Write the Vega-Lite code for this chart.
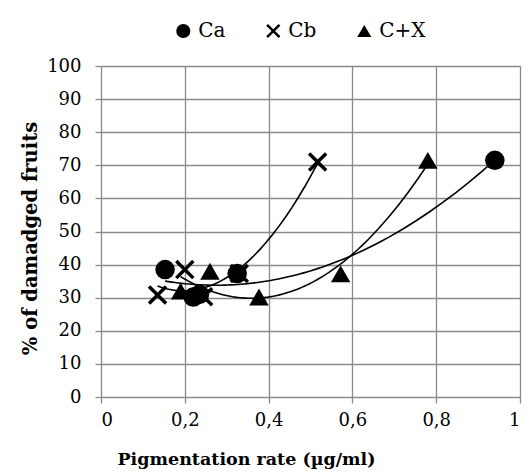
{
  "$schema": "https://vega.github.io/schema/vega-lite/v6.json",
  "width": 419,
  "height": 331,
  "autosize": {"type": "none"},
  "padding": {"left": 101, "top": 66, "right": 10, "bottom": 79},
  "background": "white",
  "config": {
    "font": "DejaVu Serif",
    "view": {"stroke": null},
    "axis": {
      "grid": true,
      "gridColor": "#8a8a8a",
      "gridWidth": 1.3,
      "domain": false,
      "tickColor": "#8a8a8a",
      "tickWidth": 1.3,
      "tickSize": 6,
      "labelFont": "DejaVu Serif",
      "labelFontSize": 18,
      "labelColor": "black",
      "labelOverlap": false,
      "titleFont": "DejaVu Serif",
      "titleFontWeight": "bold",
      "titleColor": "black"
    },
    "legend": {
      "labelFont": "DejaVu Serif",
      "labelFontSize": 20,
      "labelColor": "black"
    }
  },
  "data": {
    "values": [
      {"series": "Ca", "x": 0.153, "y": 38.5},
      {"series": "Ca", "x": 0.235, "y": 31},
      {"series": "Ca", "x": 0.22, "y": 30.2},
      {"series": "Ca", "x": 0.325, "y": 37.3},
      {"series": "Ca", "x": 0.94, "y": 71.5},
      {"series": "Cb", "x": 0.135, "y": 30.8},
      {"series": "Cb", "x": 0.2, "y": 38.5},
      {"series": "Cb", "x": 0.245, "y": 30.3},
      {"series": "Cb", "x": 0.33, "y": 37.3},
      {"series": "Cb", "x": 0.517, "y": 71},
      {"series": "C+X", "x": 0.19, "y": 32},
      {"series": "C+X", "x": 0.26, "y": 38},
      {"series": "C+X", "x": 0.377, "y": 30.2},
      {"series": "C+X", "x": 0.572, "y": 37.2},
      {"series": "C+X", "x": 0.78, "y": 71.5}
    ]
  },
  "encoding": {
    "x": {
      "field": "x",
      "type": "quantitative",
      "scale": {"domain": [0, 1], "nice": false, "zero": false},
      "axis": {
        "values": [0, 0.2, 0.4, 0.6, 0.8, 1],
        "format": "~g",
        "labelExpr": "replace(datum.label, '.', ',')",
        "labelPadding": 8,
        "title": "Pigmentation rate (µg/ml)",
        "titleFontSize": 17.5,
        "titleX": 145,
        "titleY": 62,
        "titleBaseline": "middle"
      }
    },
    "y": {
      "field": "y",
      "type": "quantitative",
      "scale": {"domain": [0, 100], "nice": false},
      "axis": {
        "values": [0, 10, 20, 30, 40, 50, 60, 70, 80, 90, 100],
        "labelPadding": 14,
        "title": "% of damadged fruits",
        "titleFontSize": 19.5,
        "titleX": -71,
        "titleY": 172,
        "titleBaseline": "middle"
      }
    }
  },
  "layer": [
    {
      "transform": [
        {"regression": "y", "on": "x", "groupby": ["series"], "method": "poly", "order": 2}
      ],
      "mark": {"type": "line", "color": "black", "strokeWidth": 1.6},
      "encoding": {
        "detail": {"field": "series", "type": "nominal"}
      }
    },
    {
      "mark": {"type": "point", "filled": true, "opacity": 1, "color": "black", "size": 380},
      "encoding": {
        "shape": {
          "field": "series",
          "type": "nominal",
          "scale": {
            "domain": ["Ca", "Cb", "C+X"],
            "range": ["circle", "M-0.75,-1L0,-0.25L0.75,-1L1,-0.75L0.25,0L1,0.75L0.75,1L0,0.25L-0.75,1L-1,0.75L-0.25,0L-1,-0.75Z", "triangle-up"]
          },
          "legend": {
            "title": null,
            "orient": "none",
            "direction": "horizontal",
            "padding": 0,
            "legendX": 72.3,
            "legendY": -45,
            "symbolSize": 200,
            "symbolFillColor": "black",
            "symbolStrokeColor": "black",
            "symbolStrokeWidth": 0,
            "labelOffset": 5,
            "columnPadding": 37
          }
        }
      }
    }
  ]
}
